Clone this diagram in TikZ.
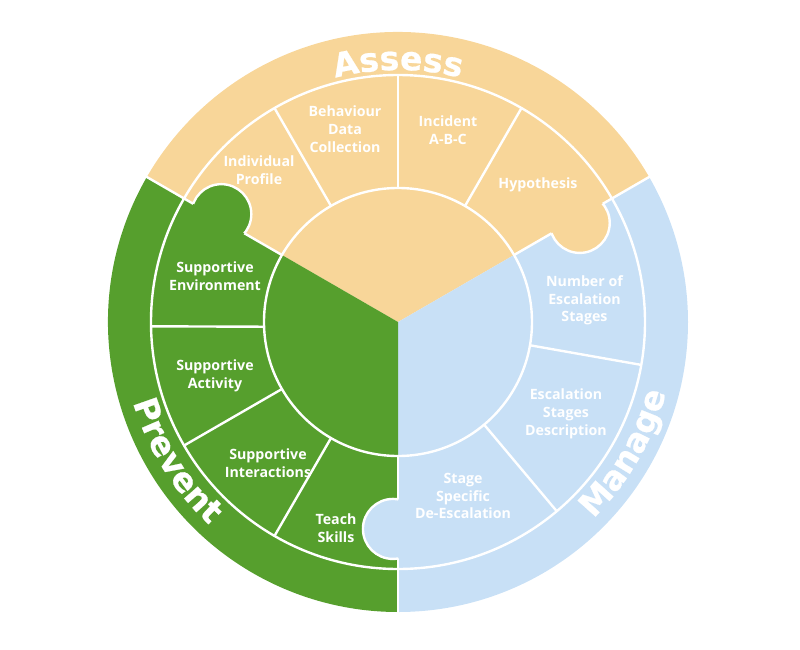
\documentclass[tikz,border=0pt]{standalone}
\usepackage{fontspec}
\setmainfont{Open Sans}
\newfontfamily\heavyfont{DejaVu Sans}[BoldFeatures={FakeBold=0.6}]
\usetikzlibrary{decorations.text}
\definecolor{assesscol}{HTML}{F8D699}
\definecolor{preventcol}{HTML}{569F2D}
\definecolor{managecol}{HTML}{C8E0F6}
\tikzset{
  sepline/.style={draw=white, line width=2.4pt},
  lbl/.style={text=white, font=\bfseries\fontsize{14.2}{17.7}\selectfont, align=center, inner sep=0pt},
  bigtext/.style={decorate, decoration={text along path, text align=center, text color=white,
      text={|\heavyfont\bfseries\fontsize{33}{33}\selectfont|#1}}}
}
\begin{document}
\begin{tikzpicture}[x=1pt,y=1pt]
\useasboundingbox (-398,-327) rectangle (402,322);
% sectors
\fill[assesscol] (0,0) -- (30:290) arc[start angle=30, end angle=150, radius=290] -- cycle;
\fill[managecol] (0,0) -- (-90:290) arc[start angle=-90, end angle=30, radius=290] -- cycle;
\fill[preventcol] (0,0) -- (150:290) arc[start angle=150, end angle=270, radius=290] -- cycle;
% main boundaries
\draw[sepline] (30:134) -- (30:291);
\draw[sepline] (150:134) -- (150:291);
\draw[sepline] (270:134) -- (270:291);
% jigsaw knobs
\fill[preventcol] (148.6:207) circle[radius=30];
\fill[assesscol] (28.6:207) circle[radius=30];
\fill[managecol] (268.6:207) circle[radius=30];
\begin{scope}
  \clip (0,0) -- (150:400) arc[start angle=150, end angle=90, radius=400] -- cycle;
  \draw[sepline] (148.6:207) circle[radius=30];
\end{scope}
\begin{scope}
  \clip (0,0) -- (30:400) arc[start angle=30, end angle=-30, radius=400] -- cycle;
  \draw[sepline] (28.6:207) circle[radius=30];
\end{scope}
\begin{scope}
  \clip (0,0) -- (270:400) arc[start angle=270, end angle=210, radius=400] -- cycle;
  \draw[sepline] (268.6:207) circle[radius=30];
\end{scope}
% rings
\draw[sepline] (0,0) circle[radius=247];
\draw[sepline] (0,0) circle[radius=134];
% dividers in the middle ring
\foreach \a in {60,90,120,-10,-50,210,240}
  \draw[sepline] (\a:134) -- (\a:247);
\draw[sepline] (181:247) -- (182:135);
% big curved labels
\path[bigtext=Assess] (150:252) arc[start angle=150, end angle=30, radius=252];
\path[bigtext=Manage] (-90:277) arc[start angle=-90, end angle=30, radius=277];
\path[bigtext=Prevent] (154:277) arc[start angle=154, end angle=270, radius=277];
% segment labels
\node[lbl] (ip) at (-139,152) {Individual\\Profile};
\node[lbl] (bdc) at (-53,193) {Behaviour\\Data\\Collection};
\node[lbl] (abc) at (50,192) {Incident\\A-B-C};
\node[lbl] (hyp) at (140,137) {Hypothesis};
\node[lbl] (env) at (-183,46) {Supportive\\Environment};
\node[lbl] (act) at (-183,-54) {Supportive\\Activity};
\node[lbl] (int) at (-130,-141.5) {Supportive\\Interactions};
\node[lbl] (ts) at (-62,-206) {Teach\\Skills};
\node[lbl] (nes) at (186.5,21.5) {Number of\\Escalation\\Stages};
\node[lbl] (esd) at (168,-92) {Escalation\\Stages\\Description};
\node[lbl] (sde) at (65,-174) {Stage\\Specific\\De-Escalation};
\end{tikzpicture}
\end{document}
